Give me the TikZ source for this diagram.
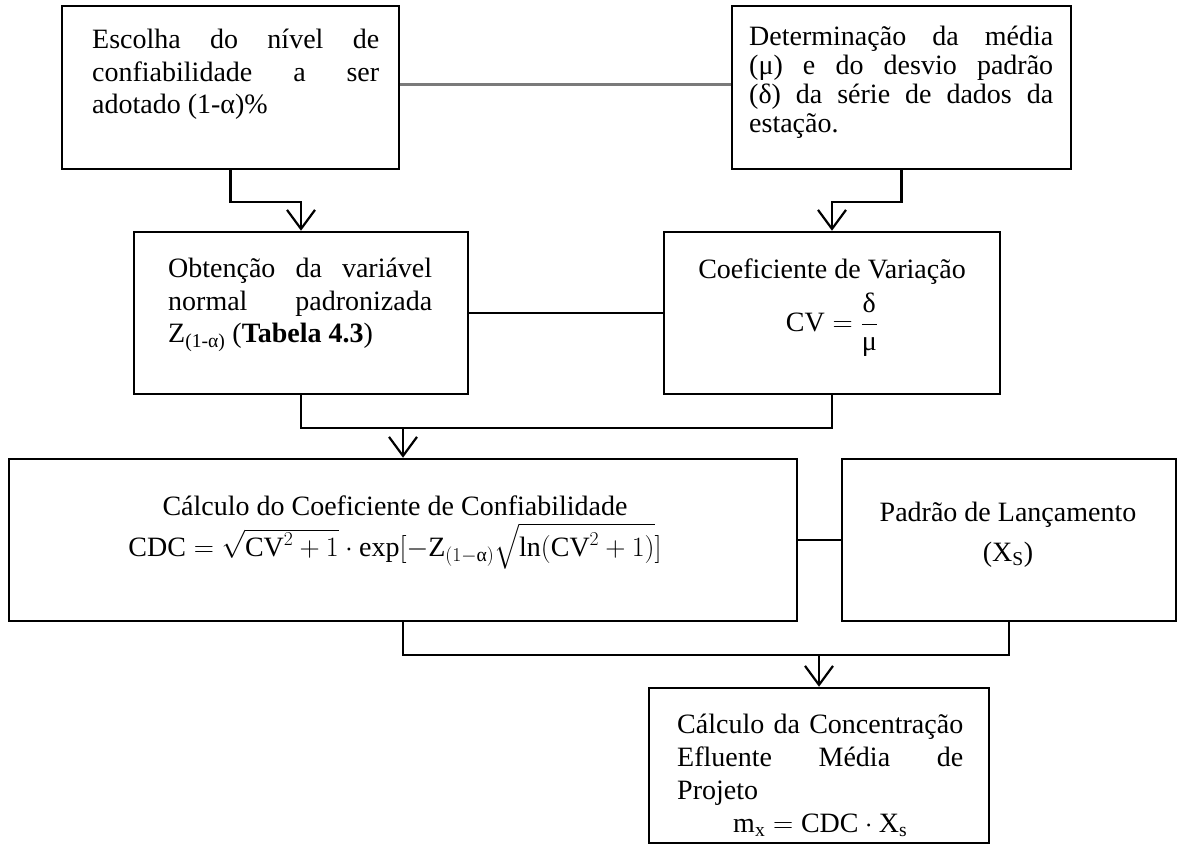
\documentclass[tikz,border=0pt]{standalone}
\usepackage{fix-cm}
\usepackage{amsmath}
\usepackage{fontspec}
\setmainfont{Liberation Serif}
\usetikzlibrary{arrows.meta}

\tikzset{
  box/.style={draw=black, line width=2.5pt, inner sep=0pt},
  link/.style={draw=black, line width=2.2pt},
  conn/.style={link, -{Straight Barb[length=19pt,width=28pt]}},
  grayline/.style={draw=black!52, line width=3pt},
  txt/.style={inner sep=0pt, anchor=base west},
  ctxt/.style={inner sep=0pt, anchor=base},
  big/.style={font=\fontsize{28}{#1}\selectfont},
}

\begin{document}
\begin{tikzpicture}[x=1pt,y=-1pt]
\fill[white] (0,0) rectangle (1184,845);
\useasboundingbox (0,0) rectangle (1184,845);

% boxes
\node[box, minimum width=337pt, minimum height=163pt] (b1) at (230.5,87.5) {};
\node[box, minimum width=339pt, minimum height=163pt] (b2) at (901.5,87.5) {};
\node[box, minimum width=334pt, minimum height=162pt] (b3) at (301,313) {};
\node[box, minimum width=336pt, minimum height=162pt] (b4) at (832,313) {};
\node[box, minimum width=788pt, minimum height=162pt] (b5) at (403,540) {};
\node[box, minimum width=334pt, minimum height=162pt] (b6) at (1009,540) {};
\node[box, minimum width=340pt, minimum height=155pt] (b7) at (819,765.5) {};

% texts
\node[txt, big=32.5] (t1) at (92,49) {\parbox[t]{287pt}{Escolha do nível de\linebreak confiabilidade a ser\linebreak adotado (1-α)\%}};
\node[txt, big=29] (t2) at (749,46) {\parbox[t]{304pt}{Determinação da média\linebreak (μ) e do desvio padrão\linebreak (δ) da série de dados da\linebreak estação.}};
\node[txt, big=33] (t3) at (168,277) {\parbox[t]{264pt}{Obtenção da variável\linebreak normal padronizada\linebreak Z\textsubscript{(1-α)} (\textbf{Tabela 4.3})}};
\node[ctxt, big=33] (t4a) at (832,279) {Coeficiente de Variação};
\node[ctxt, big=33] (t4b) at (832,331) {$\mathrm{CV}=\dfrac{\text{δ}}{\text{μ}}$};
\node[ctxt, big=41] (t5) at (395,515) {\parbox[t]{640pt}{\centering Cálculo do Coeficiente de Confiabilidade\\
  $\smash[t]{\mathrm{CDC}=\sqrt{\mathrm{CV}^2+1}\cdot\exp[-\mathrm{Z}_{(1-\text{α})}\sqrt{\ln(\mathrm{CV}^2+1)}]}$}};
\node[ctxt, big=33] (t6a) at (1008,521) {Padrão de Lançamento};
\node[ctxt, big=33] (t6b) at (1008,561) {(X\textsubscript{S})};
\node[txt, big=33] (t7) at (677,733) {\parbox[t]{286pt}{Cálculo da Concentração\linebreak Efluente Média de\linebreak Projeto\par\centering $\mathrm{m}_{\mathrm{x}}=\mathrm{CDC}\cdot\mathrm{X}_{\mathrm{s}}$}};

% connectors
\draw[grayline] ([yshift=3pt]b1.east) -- ([yshift=3pt]b2.west);
\draw[conn] (b1.south) -- ++(0,32) -| (b3.north);
\draw[conn] (b2.south) -- ++(0,32) -| (b4.north);
\draw[link] (b3.east) -- (b4.west);
\draw[link] (b3.south) -- ++(0,33) coordinate (j1) -| (b4.south);
\draw[conn] (j1 -| b5.north) -- (b5.north);
\draw[link] (b5.east) -- (b6.west);
\draw[link] (b5.south) -- ++(0,33) coordinate (j2) -| (b6.south);
\draw[conn] (j2 -| b7.north) -- (b7.north);
\end{tikzpicture}
\end{document}
